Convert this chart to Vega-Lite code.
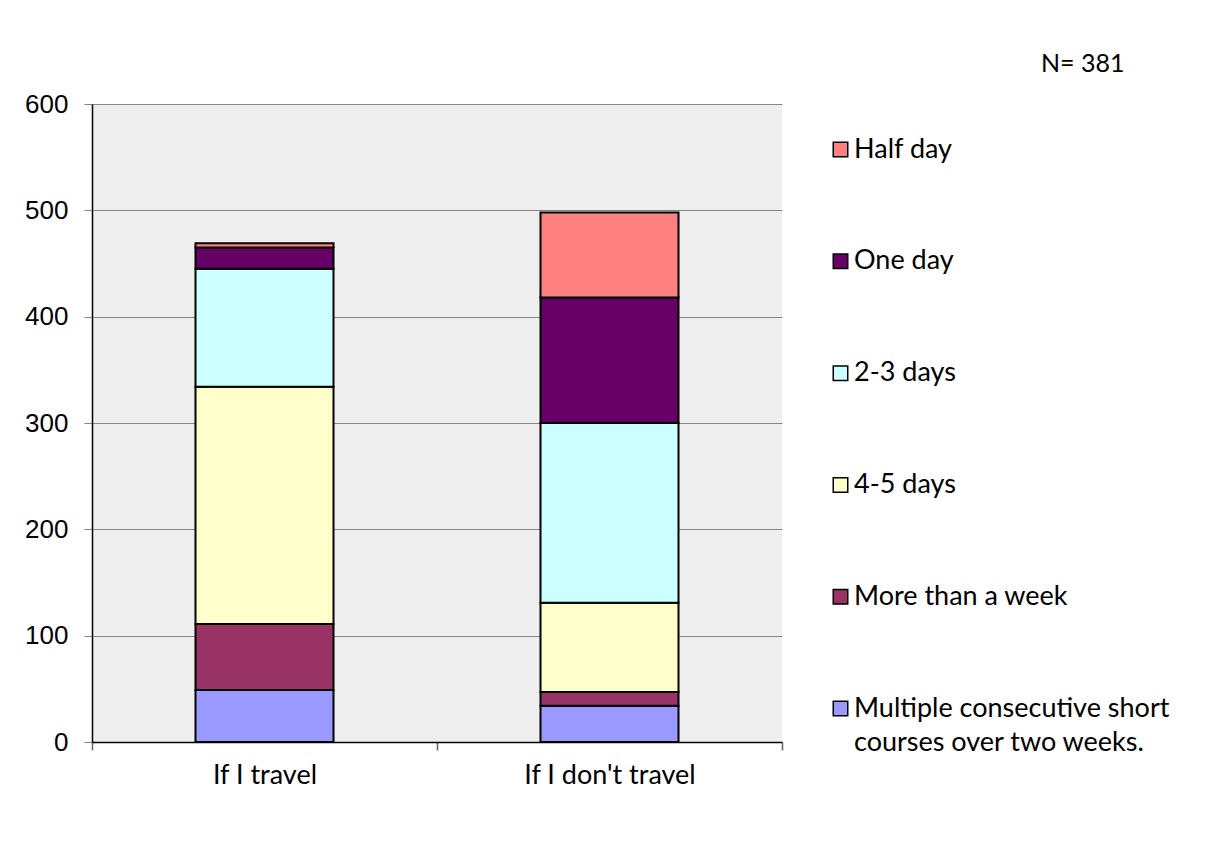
{
  "$schema": "https://vega.github.io/schema/vega-lite/v6.json",
  "width": 690,
  "height": 638,
  "autosize": {"type": "none"},
  "padding": {"left": 92, "top": 104, "right": 429, "bottom": 113},
  "background": "white",
  "title": {
    "text": "N= 381",
    "anchor": "start",
    "frame": "group",
    "dx": 949,
    "offset": -6,
    "baseline": "alphabetic",
    "font": "Lato",
    "fontSize": 25,
    "fontWeight": "normal",
    "color": "black"
  },
  "config": {
    "view": {"fill": "#EEEEEE", "stroke": null},
    "style": {"guide-label": {"lineHeight": 34}}
  },
  "data": {
    "values": [
      {"scenario": "If I travel", "duration": "Multiple consecutive short courses over two weeks.", "level": 1, "count": 49},
      {"scenario": "If I travel", "duration": "More than a week", "level": 2, "count": 62},
      {"scenario": "If I travel", "duration": "4-5 days", "level": 3, "count": 223},
      {"scenario": "If I travel", "duration": "2-3 days", "level": 4, "count": 111},
      {"scenario": "If I travel", "duration": "One day", "level": 5, "count": 20},
      {"scenario": "If I travel", "duration": "Half day", "level": 6, "count": 4},
      {"scenario": "If I don't travel", "duration": "Multiple consecutive short courses over two weeks.", "level": 1, "count": 34},
      {"scenario": "If I don't travel", "duration": "More than a week", "level": 2, "count": 13},
      {"scenario": "If I don't travel", "duration": "4-5 days", "level": 3, "count": 84},
      {"scenario": "If I don't travel", "duration": "2-3 days", "level": 4, "count": 169},
      {"scenario": "If I don't travel", "duration": "One day", "level": 5, "count": 118},
      {"scenario": "If I don't travel", "duration": "Half day", "level": 6, "count": 80}
    ]
  },
  "mark": {"type": "bar", "stroke": "black", "strokeWidth": 2, "width": {"band": 0.4}},
  "encoding": {
    "x": {
      "field": "scenario",
      "type": "nominal",
      "sort": ["If I travel", "If I don't travel"],
      "scale": {"paddingInner": 0, "paddingOuter": 0},
      "axis": {
        "title": null,
        "labelAngle": 0,
        "labelFont": "Lato",
        "labelFontSize": 27,
        "labelColor": "black",
        "labelPadding": 12,
        "domainColor": "black",
        "domainWidth": 1.5,
        "tickColor": "#666666",
        "tickWidth": 1.5,
        "tickSize": 8,
        "tickBand": "extent"
      }
    },
    "y": {
      "field": "count",
      "type": "quantitative",
      "stack": "zero",
      "scale": {"domain": [0, 600]},
      "axis": {
        "title": null,
        "values": [0, 100, 200, 300, 400, 500, 600],
        "grid": true,
        "gridColor": "#868686",
        "gridWidth": 1,
        "domainColor": "black",
        "domainWidth": 1.5,
        "tickColor": "#868686",
        "tickSize": 8,
        "labelFont": "Liberation Sans",
        "labelFontSize": 26,
        "labelColor": "black",
        "labelPadding": 16
      }
    },
    "color": {
      "field": "duration",
      "type": "nominal",
      "scale": {
        "domain": ["Half day", "One day", "2-3 days", "4-5 days", "More than a week", "Multiple consecutive short courses over two weeks."],
        "range": ["#FF8080", "#660066", "#CCFFFF", "#FFFFCC", "#993366", "#9999FF"]
      },
      "legend": {
        "title": null,
        "orient": "none",
        "legendX": 735,
        "legendY": 40,
        "symbolType": "M-1,-2.1L1,-2.1L1,-0.1L-1,-0.1Z",
        "symbolSize": 210,
        "symbolStrokeColor": "black",
        "symbolStrokeWidth": 1.5,
        "symbolOpacity": 1,
        "labelFont": "Lato",
        "labelFontSize": 27,
        "labelColor": "black",
        "labelBaseline": "alphabetic",
        "labelOffset": 0,
        "labelLimit": 500,
        "rowPadding": 83.8,
        "labelExpr": "datum.label === 'Multiple consecutive short courses over two weeks.' ? ['Multiple consecutive short', 'courses over two weeks.'] : datum.label"
      }
    },
    "order": {"field": "level", "type": "quantitative"}
  }
}
